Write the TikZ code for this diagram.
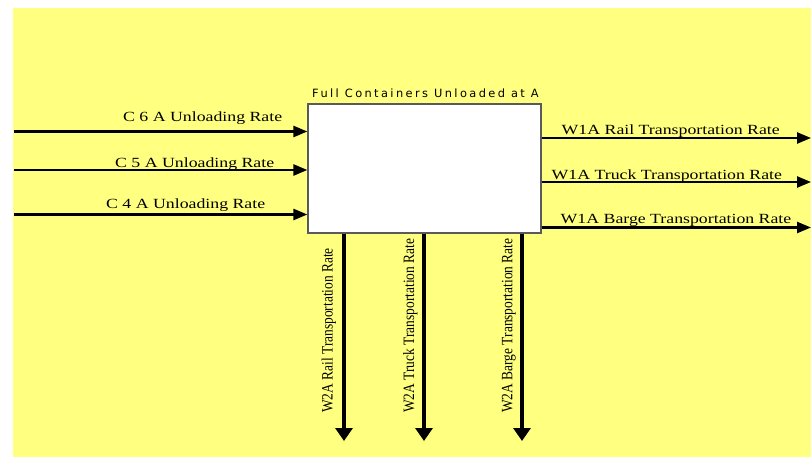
\documentclass[tikz,border=0pt]{standalone}
\usepackage{fontspec}
\usetikzlibrary{arrows.meta}
\newfontfamily\lblfont[FakeStretch=1.27]{Liberation Serif}
\newfontfamily\vlblfont[FakeStretch=0.85]{Liberation Serif}
\newfontfamily\ttlfont[LetterSpace=21]{DejaVu Sans}
\definecolor{yel}{RGB}{255,255,128}
\definecolor{boxline}{RGB}{90,90,90}
\tikzset{
  hlbl/.style={inner sep=0pt, font=\lblfont\fontsize{14}{16}\selectfont},
  vlbl/.style={inner sep=0pt, rotate=90, anchor=base west, font=\vlblfont\fontsize{15.8}{18}\selectfont},
  harr/.style={line width=2.5pt, -{Triangle[length=14pt,width=11pt]}},
  varr/.style={line width=4pt, -{Triangle[length=13pt,width=17pt]}},
  stock/.style={draw=boxline, fill=white, line width=1.2pt, minimum width=233pt, minimum height=129pt, inner sep=0pt}
}
\begin{document}
\begin{tikzpicture}[x=1pt,y=-1pt]
\useasboundingbox (0,0) rectangle (811,457);
\fill[white] (0,0) rectangle (811,457);
\fill[yel] (13,8.5) rectangle (811,457);
% stock box
\node[stock] (box) at (424.5,168.5) {};
\node[inner sep=0pt, anchor=base west, font=\ttlfont\fontsize{11.4}{13}\selectfont] (title) at (312,98) {Full Containers Unloaded at A};
% inflows
\coordinate (c6) at (14,131.5);
\coordinate (c5) at (14,170);
\coordinate (c4) at (14,214.5);
\draw[harr] (c6) -- (c6 -| box.west);
\draw[harr] (c5) -- (c5 -| box.west);
\draw[harr] (c4) -- (c4 -| box.west);
\node[hlbl, anchor=base west] (l6) at (123,122) {C 6 A Unloading Rate};
\node[hlbl, anchor=base west] (l5) at (115,167.5) {C 5 A Unloading Rate};
\node[hlbl, anchor=base west] (l4) at (106,208) {C 4 A Unloading Rate};
% right outflows
\coordinate (r1) at (811,138);
\coordinate (r2) at (811,182);
\coordinate (r3) at (811,227.5);
\draw[harr] (r1 -| box.east) -- (r1);
\draw[harr] (r2 -| box.east) -- (r2);
\draw[harr] (r3 -| box.east) -- (r3);
\node[hlbl, anchor=base west] (w1r) at (561.5,135) {W1A Rail Transportation Rate};
\node[hlbl, anchor=base west] (w1t) at (551.5,180) {W1A Truck Transportation Rate};
\node[hlbl, anchor=base west] (w1b) at (560.5,223) {W1A Barge Transportation Rate};
% down outflows
\coordinate (d1) at (344,441);
\coordinate (d2) at (424,441);
\coordinate (d3) at (522,441);
\draw[varr] (d1 |- box.south) -- (d1);
\draw[varr] (d2 |- box.south) -- (d2);
\draw[varr] (d3 |- box.south) -- (d3);
\node[vlbl] (w2r) at (332.5,413) {W2A Rail Transportation Rate};
\node[vlbl] (w2t) at (414,413) {W2A Truck Transportation Rate};
\node[vlbl] (w2b) at (512.3,413) {W2A Barge Transportation Rate};
\end{tikzpicture}
\end{document}
